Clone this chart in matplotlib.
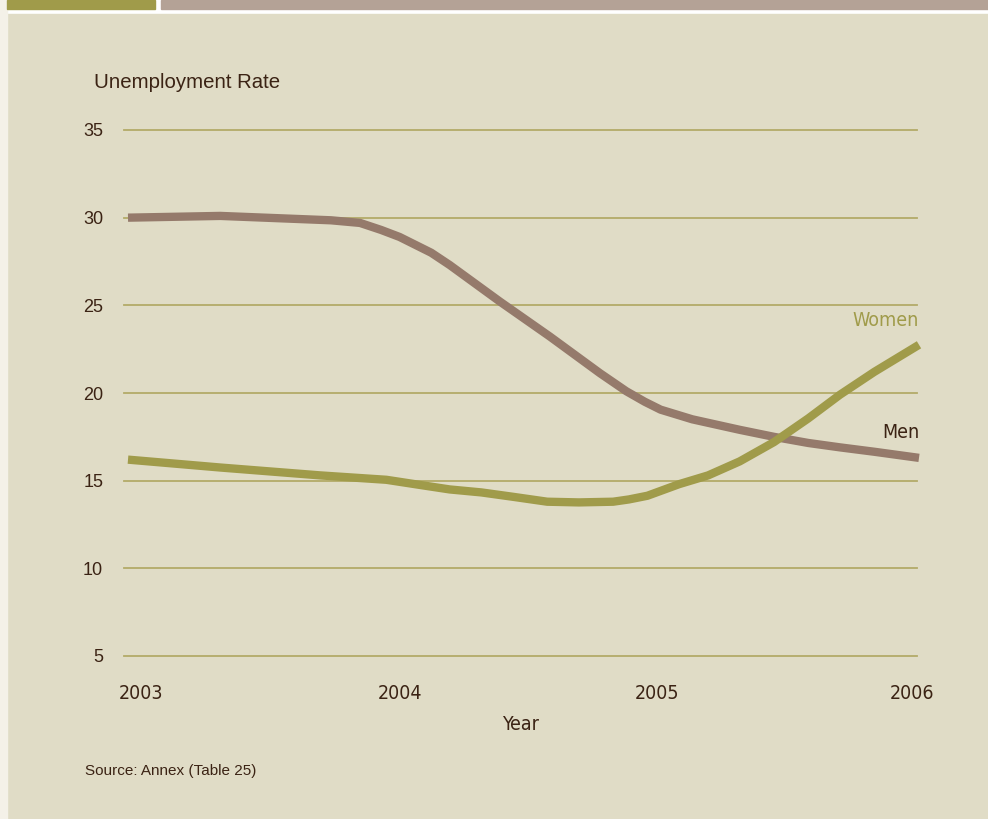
import matplotlib
matplotlib.use("Agg")
import matplotlib.pyplot as plt
from matplotlib.patches import Rectangle

# values
men_years = [2003.00, 2003.35, 2003.77, 2003.88, 2003.96, 2004.03, 2004.15, 2004.22,
             2004.41, 2004.60, 2004.79, 2004.89, 2004.96, 2005.02, 2005.14, 2005.32,
             2005.45, 2005.58, 2005.70, 2005.83, 2006.00]
men_rate = [30.0, 30.1, 29.85, 29.7, 29.3, 28.9, 28.0, 27.3,
            25.22, 23.22, 21.13, 20.1, 19.5, 19.05, 18.5, 17.9,
            17.5, 17.15, 16.9, 16.65, 16.3]

women_years = [2003.00, 2003.35, 2003.73, 2003.98, 2004.11, 2004.22, 2004.34, 2004.46,
               2004.59, 2004.71, 2004.84, 2004.90, 2004.97, 2005.09, 2005.20, 2005.32,
               2005.45, 2005.58, 2005.70, 2005.83, 2006.00]
women_rate = [16.2, 15.75, 15.3, 15.05, 14.75, 14.5, 14.33, 14.08,
              13.8, 13.76, 13.8, 13.93, 14.14, 14.8, 15.3, 16.1,
              17.2, 18.55, 19.9, 21.2, 22.75]

year_labels = ['2003', '2004', '2005', '2006']
y_ticks = [5, 10, 15, 20, 25, 30, 35]

BG = '#e0dcc6'
OLIVE = '#a09b4a'
TAUPE = '#957a6b'
GRID = '#b3ab68'
TEXT = '#3b2314'
SANS = ['Liberation Sans', 'DejaVu Sans']

W, H = 988, 819
fig = plt.figure(figsize=(W / 100, H / 100), dpi=100)
fig.patch.set_facecolor('white')

# frame decorations
fig.patches.append(Rectangle((7 / W, 0), 1, 1 - 14 / H, transform=fig.transFigure,
                             color=BG, zorder=-10))
fig.patches.append(Rectangle((0, 0), 7 / W, 1, transform=fig.transFigure,
                             color='#f4f1e8', zorder=-10))
fig.patches.append(Rectangle((7 / W, 1 - 9 / H), 148 / W, 9 / H, transform=fig.transFigure,
                             color=OLIVE, zorder=-10))
fig.patches.append(Rectangle((161 / W, 1 - 9 / H), 1, 9 / H, transform=fig.transFigure,
                             color='#b4a296', zorder=-10))

ax = fig.add_axes([124 / W, 1 - 656 / H, (917 - 124) / W, (656 - 130) / H])
ax.set_facecolor('none')
for s in ax.spines.values():
    s.set_visible(False)

px_per_year = 263.7
ax.set_xlim(2003 - 4 / px_per_year, 2006 - 2 / px_per_year)
ax.set_ylim(5, 35)

for v in y_ticks:
    ax.axhline(v, color=GRID, linewidth=1.3, zorder=1, clip_on=False)

ax.plot(men_years, men_rate, color=TAUPE, linewidth=6, solid_capstyle='butt',
        solid_joinstyle='round', zorder=3, clip_on=False)
ax.plot(women_years, women_rate, color=OLIVE, linewidth=6, solid_capstyle='butt',
        solid_joinstyle='round', zorder=3, clip_on=False)

ax.set_yticks(y_ticks)
ax.set_yticklabels([str(v) for v in y_ticks], fontsize=13, color=TEXT, family=SANS)
ax.set_xticks([2003.05, 2004.03, 2005.006, 2005.973])
ax.set_xticklabels(year_labels, fontsize=14, color=TEXT, family='DejaVu Sans',
                   fontstretch='condensed')
ax.tick_params(axis='y', length=0, pad=15)
ax.tick_params(axis='x', length=0, pad=20)

ax.set_xlabel('Year', fontsize=14, color=TEXT, family='DejaVu Sans',
              fontstretch='condensed', labelpad=9)

fig.text(94 / W, 1 - 83 / H, 'Unemployment Rate', fontsize=14.7, color=TEXT,
         family=SANS, va='center', ha='left')
fig.text(85 / W, 1 - 771 / H, 'Source: Annex (Table 25)', fontsize=11, color=TEXT,
         family=SANS, va='center', ha='left')

fig.text(919 / W, 1 - 321 / H, 'Women', fontsize=14, color=OLIVE, family='DejaVu Sans',
         fontstretch='condensed', ha='right', va='center')
fig.text(919 / W, 1 - 432 / H, 'Men', fontsize=14, color=TEXT, family='DejaVu Sans',
         fontstretch='condensed', ha='right', va='center')

fig.savefig('out.png', dpi=100, facecolor=fig.get_facecolor())
